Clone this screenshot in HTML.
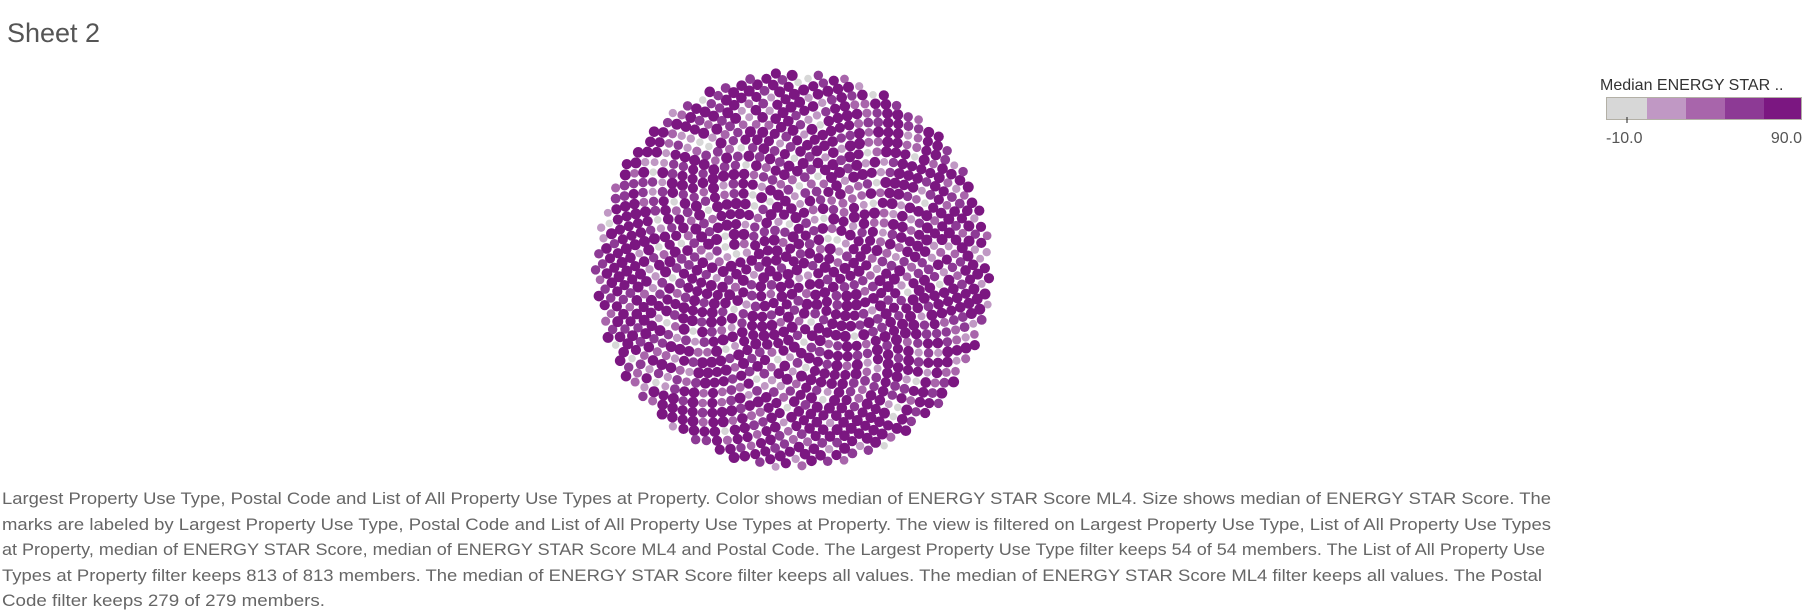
<!DOCTYPE html>
<html><head><meta charset="utf-8"><style>
body{margin:0;width:1811px;height:611px;background:#fff;overflow:hidden;font-family:"Liberation Sans",sans-serif}
svg{position:absolute;left:0;top:0}
</style></head><body>
<svg width="1811" height="611">
<text x="7" y="42" font-size="27" fill="#555" font-weight="300">Sheet 2</text>
<g id="bubbles"></g>
<g>
<text x="1600" y="90" font-size="16" fill="#333">Median ENERGY STAR ..</text>
<rect x="1606" y="97" width="196" height="23" fill="#b3b0a6"/>
<rect x="1607" y="98" width="40" height="21" fill="#d7d7d7"/>
<rect x="1647" y="98" width="39" height="21" fill="#c098c4"/>
<rect x="1686" y="98" width="39" height="21" fill="#a865ab"/>
<rect x="1725" y="98" width="39" height="21" fill="#8d3a95"/>
<rect x="1764" y="98" width="37" height="21" fill="#7b1781"/>
<line x1="1627" y1="117" x2="1627" y2="123" stroke="#222" stroke-width="1"/>
<text x="1606" y="143" font-size="16" fill="#555">-10.0</text>
<text x="1802" y="143" font-size="16" fill="#555" text-anchor="end">90.0</text>
</g>
<g font-size="16.5" fill="#666">
<text x="2" y="504" textLength="1549" lengthAdjust="spacingAndGlyphs">Largest Property Use Type, Postal Code and List of All Property Use Types at Property.  Color shows median of ENERGY STAR Score ML4.  Size shows median of ENERGY STAR Score.  The</text>
<text x="2" y="530" textLength="1549" lengthAdjust="spacingAndGlyphs">marks are labeled by Largest Property Use Type, Postal Code and List of All Property Use Types at Property. The view is filtered on Largest Property Use Type, List of All Property Use Types</text>
<text x="2" y="555" textLength="1543" lengthAdjust="spacingAndGlyphs">at Property, median of ENERGY STAR Score, median of ENERGY STAR Score ML4 and Postal Code. The Largest Property Use Type filter keeps 54 of 54 members. The List of All Property Use</text>
<text x="2" y="581" textLength="1540" lengthAdjust="spacingAndGlyphs">Types at Property filter keeps 813 of 813 members. The median of ENERGY STAR Score filter keeps all values. The median of ENERGY STAR Score ML4 filter keeps all values. The Postal</text>
<text x="2" y="606" textLength="323" lengthAdjust="spacingAndGlyphs">Code filter keeps 279 of 279 members.</text>
</g>
</svg>
<script>
// median ENERGY STAR Score ML4 per mark, one digit = score/10
const scoreDigits =
"3542065213457820413562784103526748012453687125304768213540629874130256478213065428731240568723140586" +
"4705281367940512837605143879265041387952601478352906174835206971483502697148305276914830527691483057" +
"6928471305829746130582974613058297461305829746138572940613857294061385729406138572940613857294061385" +
"7829563047182956304718295630471829563047182956304718295630471829563047182956304718295630471829563047" +
"8957364028957364128957364028957364128957364028957364128957364028957364128957364028957364128957364028" +
"9786547309786541309786547809786541309786547809786541309786547809786541309786547809786541309786547809" +
"8796578249879657824987965782498796578249879657824987965782498796578249879657824987965782498796578249" +
"7985967835798596783579859678357985967835798596783579859678357985967835798596783579859678357985967835" +
"9878695789987869578998786957899878695789987869578998786957899878695789987869578998786957899878695789" +
"8979687598897968759889796875988979687598897968759889796875988979687598897968759889796875988979687598" +
"9789786957978978695797897869579789786957978978695797897869579789786957978978695797897869579789786957" +
"8897978689889797868988979786898897978689889797868988979786898897978689889797868988979786898897978689" +
"9788979578978897957897889795789788979578978897957897889795789788979578978897957897889795789788979578";
const scores = scoreDigits.split("").map(d => Number(d) * 10);
const colorBins = [-10, 10, 30, 50, 70, 90];
const binColors = ["#d7d7d7", "#c098c4", "#a865ab", "#8d3a95", "#7b1781"];

const cx = 793, cy = 270, R = 198;
const N = scores.length;
const golden = Math.PI * (3 - Math.sqrt(5));
// deterministic layout shuffle: each mark gets a slot in the packing
function hash(i){ const s = Math.sin(i * 12.9898 + 78.233) * 43758.5453; return s - Math.floor(s); }
const order = scores.map((_, i) => i).sort((a, b) => hash(a) - hash(b));
const slot = new Array(N);
order.forEach((idx, k) => { slot[idx] = k; });
function colorOf(v){ for(let i=0;i<5;i++){ if(v < colorBins[i+1]) return binColors[i]; } return binColors[4]; }
function sizeOf(v){ return 3.6 + (v + 10) / 100 * 1.9; }
const g = document.getElementById("bubbles");
const NS = "http://www.w3.org/2000/svg";
for (let i = 0; i < N; i++) {
  const k = slot[i];
  const r = Math.sqrt((k + 0.5) / N) * R;
  const a = k * golden;
  const c = document.createElementNS(NS, "circle");
  c.setAttribute("cx", (cx + r * Math.cos(a)).toFixed(2));
  c.setAttribute("cy", (cy + r * Math.sin(a)).toFixed(2));
  c.setAttribute("r", sizeOf(scores[i]).toFixed(2));
  c.setAttribute("fill", colorOf(scores[i]));
  
  
  g.appendChild(c);
}
</script>
</body></html>
